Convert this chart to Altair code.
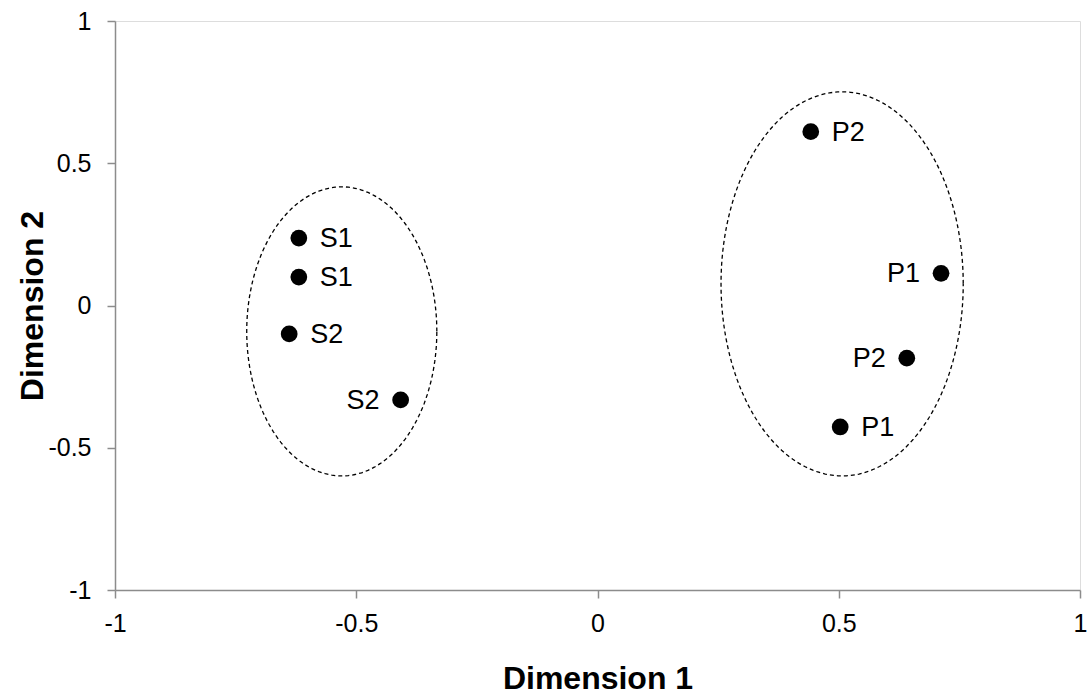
import altair as alt
import numpy as np
import pandas as pd

# Coordinates of each item on the two dimensions
labels = ["S1", "S1", "S2", "S2", "P2", "P1", "P2", "P1"]
dim1 = [-0.619, -0.619, -0.639, -0.408, 0.442, 0.712, 0.641, 0.503]
dim2 = [0.237, 0.10, -0.10, -0.332, 0.611, 0.113, -0.185, -0.427]
label_side = ["right", "right", "right", "left", "right", "left", "left", "right"]

# Cluster outlines: centre (x, y) and half-axes (rx, ry)
cluster_names = ["S", "P"]
cluster_cx = [-0.53, 0.507]
cluster_cy = [-0.091, 0.076]
cluster_rx = [0.197, 0.251]
cluster_ry = [0.508, 0.675]

tick_values = [-1, -0.5, 0, 0.5, 1]

points = pd.DataFrame({"label": labels, "dim1": dim1, "dim2": dim2, "side": label_side})

outline_rows = []
t = np.linspace(0, 2 * np.pi, 181)
for name, cx, cy, rx, ry in zip(cluster_names, cluster_cx, cluster_cy, cluster_rx, cluster_ry):
    for i, a in enumerate(t):
        outline_rows.append({"cluster": name, "i": i,
                             "dim1": cx + rx * np.cos(a), "dim2": cy + ry * np.sin(a)})
outlines = pd.DataFrame(outline_rows)

FONT = "Liberation Sans"
AXIS_GREY = "#8c8c8c"
PLOT_W, PLOT_H = 965, 569
x_scale = alt.Scale(domain=[-1, 1], nice=False, zero=False)
y_scale = alt.Scale(domain=[-1, 1], nice=False, zero=False)

axis_style = dict(values=tick_values, grid=False, domainColor=AXIS_GREY, domainWidth=1.5,
                  tickColor=AXIS_GREY, tickWidth=1.5, tickSize=8,
                  labelExpr="'' + datum.value", labelFontSize=25, labelColor="black",
                  labelFont=FONT, labelFlush=False,
                  titleFont=FONT, titleFontSize=32, titleFontWeight="bold",
                  titleColor="black", titleBaseline="alphabetic", titleAlign="center")

x_enc = alt.X("dim1:Q", scale=x_scale, title="Dimension 1",
              axis=alt.Axis(labelPadding=13, titleX=PLOT_W / 2, titleY=98, **axis_style))
y_enc = alt.Y("dim2:Q", scale=y_scale, title="Dimension 2",
              axis=alt.Axis(labelPadding=16, titleX=-73, titleY=PLOT_H / 2, titleAngle=270,
                            **axis_style))

ellipses = alt.Chart(outlines).mark_line(color="black", strokeWidth=1.3, strokeDash=[4, 3]).encode(
    x=x_enc, y=y_enc, detail="cluster:N", order="i:Q")

dots = alt.Chart(points).mark_circle(size=280, color="black", opacity=1).encode(x=x_enc, y=y_enc)

right_labels = alt.Chart(points).transform_filter(alt.datum.side == "right").mark_text(
    align="left", baseline="middle", dx=21, dy=1, fontSize=27, font=FONT, color="black"
).encode(x=x_enc, y=y_enc, text="label:N")

left_labels = alt.Chart(points).transform_filter(alt.datum.side == "left").mark_text(
    align="right", baseline="middle", dx=-21, dy=1, fontSize=27, font=FONT, color="black"
).encode(x=x_enc, y=y_enc, text="label:N")

chart = alt.layer(ellipses, dots, right_labels, left_labels).properties(
    width=PLOT_W, height=PLOT_H,
    autosize=alt.AutoSizeParams(type="none"),
    padding={"left": 115, "top": 21, "right": 11, "bottom": 105},
).configure_view(stroke=None).configure(background="white")

chart.save("out.html", embed_options={"renderer": "svg", "actions": False})
